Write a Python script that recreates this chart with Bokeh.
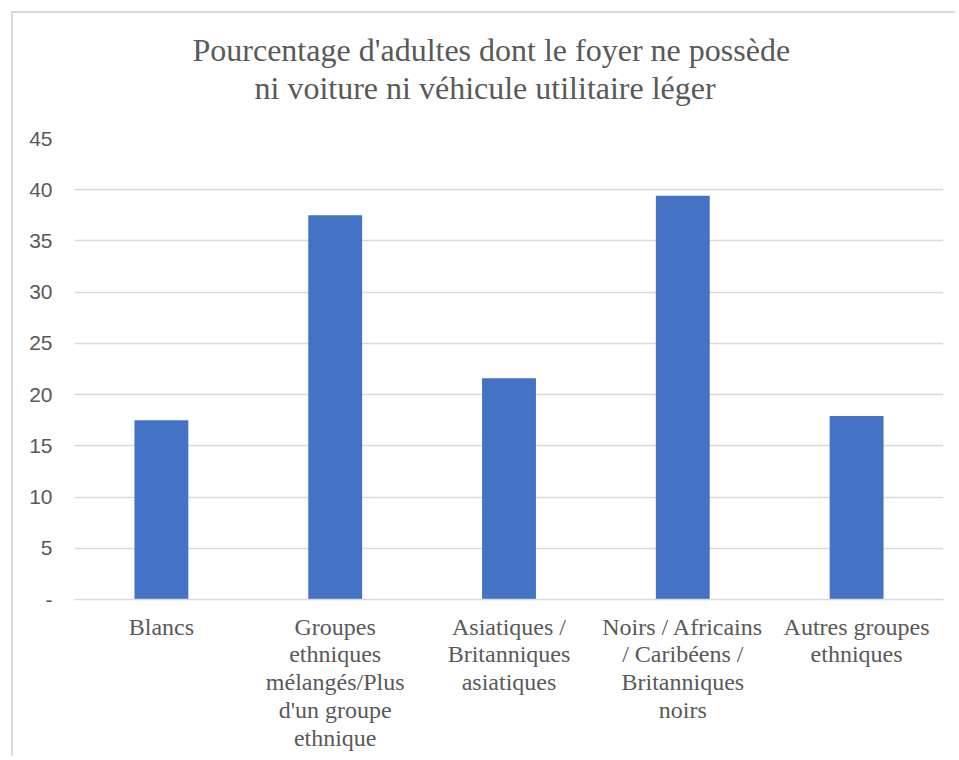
from bokeh.plotting import figure
from bokeh.models import Range1d, FactorRange, Title, FixedTicker, ColumnDataSource
from bokeh.embed import file_html
from bokeh.resources import INLINE

# ---- data ----
categories = [
    "Blancs",
    "Groupes ethniques mélangés/Plus d'un groupe ethnique",
    "Asiatiques / Britanniques asiatiques",
    "Noirs / Africains / Caribéens / Britanniques noirs",
    "Autres groupes ethniques",
]
tick_labels = [
    "Blancs",
    "Groupes\nethniques\nmélangés/Plus\nd'un groupe\nethnique",
    "Asiatiques /\nBritanniques\nasiatiques",
    "Noirs / Africains\n/ Caribéens /\nBritanniques\nnoirs",
    "Autres groupes\nethniques",
]
values = [17.5, 37.5, 21.6, 39.4, 17.9]
y_ticks = [0, 5, 10, 15, 20, 25, 30, 35, 40, 45]
title_lines = ["Pourcentage d'adultes dont le foyer ne possède",
               "ni voiture ni véhicule utilitaire léger"]

TEXT = "#595959"
GRID = "#d9d9d9"
BAR = "#4472C4"
SERIF = "'Liberation Serif', serif"

src = ColumnDataSource(data=dict(cat=tick_labels, name=categories, val=values))

p = figure(
    x_range=FactorRange(*tick_labels),
    y_range=Range1d(0, 45),
    width=944, height=745,
    output_backend="svg", toolbar_location=None,
    min_border_left=61, min_border_right=14,
    min_border_top=125, min_border_bottom=159,
    title=None,
)
p.styles = {"margin-left": "11px", "margin-top": "11px",
            "border-left": f"2px solid {GRID}", "border-top": f"2px solid {GRID}"}
p.outline_line_color = None
p.background_fill_color = "white"
p.border_fill_color = "white"

p.vbar(x="cat", top="val", width=0.31, source=src, fill_color=BAR, line_color=None)

# title: two lines, stacked outward from the frame (second line first)
t2 = Title(text=title_lines[1], align="left", offset=180, text_font=SERIF,
           text_font_size="32px", text_font_style="normal", text_color=TEXT,
           standoff=65)
t1 = Title(text=title_lines[0], align="left", offset=118, text_font=SERIF,
           text_font_size="32px", text_font_style="normal", text_color=TEXT,
           standoff=-65)
p.add_layout(t2, "above")
p.add_layout(t1, "above")

# y axis
p.yaxis.ticker = FixedTicker(ticks=y_ticks)
p.yaxis.major_label_overrides = {0: "-"}
p.yaxis.axis_line_color = None
p.yaxis.major_tick_line_color = None
p.yaxis.minor_tick_line_color = None
p.yaxis.major_tick_out = 0
p.yaxis.major_tick_in = 0
p.yaxis.major_label_standoff = 22
p.yaxis.major_label_text_font = "Liberation Sans"
p.yaxis.major_label_text_font_size = "21px"
p.yaxis.major_label_text_color = TEXT

# x axis
p.xaxis.axis_line_color = GRID
p.xaxis.axis_line_width = 1.5
p.xaxis.major_tick_line_color = None
p.xaxis.minor_tick_line_color = None
p.xaxis.major_tick_out = 0
p.xaxis.major_tick_in = 0
p.xaxis.major_label_standoff = 14
p.xaxis.major_label_orientation = "horizontal"
p.xaxis.major_label_text_font = SERIF
p.xaxis.major_label_text_font_size = "24px"
p.xaxis.major_label_text_line_height = 1.07
p.xaxis.major_label_text_color = TEXT

p.xgrid.grid_line_color = None
p.ygrid.grid_line_color = GRID
p.ygrid.grid_line_width = 1.5

open("out.html", "w").write(file_html(p, INLINE))
